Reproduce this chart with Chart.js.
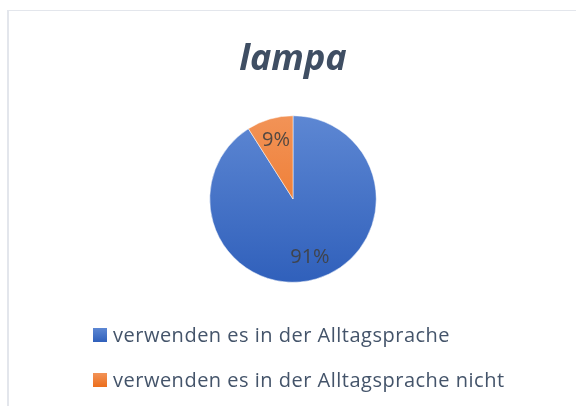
<!DOCTYPE html>
<html>
<head>
<meta charset="utf-8">
<script src="https://cdn.jsdelivr.net/npm/chart.js@4"></script>
<style>
    html, body { margin: 0; padding: 0; background: #fff; }
    #wrap { position: relative; width: 576px; height: 406px; overflow: hidden; }
    #frame {
        position: absolute; left: 7px; top: 10px; width: 600px; height: 420px;
        border-left: 2px solid #e3e6ec; border-top: 1px solid #e3e6ec;
    }
    canvas { position: absolute; left: 0; top: 0; }
</style>
</head>
<body>
<div id="wrap">
    <div id="frame"></div>
    <canvas id="chart" width="576" height="406"></canvas>
</div>
<script>
const title = "lampa";
const labels = ["verwenden es in der Alltagsprache", "verwenden es in der Alltagsprache nicht"];
const values = [91, 9];
const topColours = ["#5d87d3", "#f29357"];
const bottomColours = ["#3060bb", "#ec6e1c"];

const textCol = "#44546a";
const font = "'Open Sans', sans-serif";

function sliceFill(ctx) {
    const chart = ctx.chart;
    const area = chart.chartArea;
    if (!area) return topColours[ctx.dataIndex];
    const g = chart.ctx.createLinearGradient(0, area.top, 0, area.bottom);
    g.addColorStop(0, topColours[ctx.dataIndex]);
    g.addColorStop(1, bottomColours[ctx.dataIndex]);
    return g;
}

// percent labels inside the slices
const sliceLabels = {
    id: 'sliceLabels',
    afterDatasetsDraw(chart) {
        const c = chart.ctx;
        const total = values.reduce((a, b) => a + b, 0);
        const arcs = chart.getDatasetMeta(0).data;
        c.save();
        c.font = `20px ${font}`;
        c.fillStyle = "rgba(64,64,64,0.9)";
        c.textAlign = "center";
        c.textBaseline = "middle";
        arcs.forEach((arc, i) => {
            const p = arc.getProps(['x', 'y', 'startAngle', 'endAngle', 'outerRadius'], true);
            const mid = (p.startAngle + p.endAngle) / 2;
            const r = p.outerRadius * 0.73;
            const txt = Math.round(values[i] / total * 100) + "%";
            c.fillText(txt, p.x + Math.cos(mid) * r, p.y + Math.sin(mid) * r);
        });
        c.restore();
    }
};

// legend stacked under the pie, left aligned
const stackedLegend = {
    id: 'stackedLegend',
    afterDraw(chart) {
        const c = chart.ctx;
        const x0 = 93, rows = [335, 380], box = 14;
        c.save();
        c.font = `20px ${font}`;
        if ('letterSpacing' in c) c.letterSpacing = "0.5px";
        c.textBaseline = "middle";
        labels.forEach((lab, i) => {
            const y = rows[i];
            const g = c.createLinearGradient(0, y - box / 2, 0, y + box / 2);
            g.addColorStop(0, topColours[i]);
            g.addColorStop(1, bottomColours[i]);
            c.fillStyle = g;
            c.fillRect(x0, y - box / 2, box, box);
            c.fillStyle = textCol;
            c.fillText(lab, x0 + 20, y + 1);
        });
        c.restore();
    }
};

new Chart(document.getElementById("chart"), {
    type: 'pie',
    data: {
        labels: labels,
        datasets: [{
            data: values,
            backgroundColor: sliceFill,
            borderColor: "#ffffff",
            borderWidth: 0.5
        }]
    },
    options: {
        responsive: false,
        animation: false,
        layout: {
            padding: {left: 10, right: 0, top: 0, bottom: 123.5}
        },
        plugins: {
            legend: {display: false},
            tooltip: {enabled: false},
            title: {
                display: true,
                text: title,
                color: "#3f4e63",
                font: {family: font, size: 36, weight: 'bold', style: 'italic', lineHeight: 1.2},
                padding: {top: 38, bottom: 34.3}
            }
        }
    },
    plugins: [sliceLabels, stackedLegend]
});
</script>
</body>
</html>
